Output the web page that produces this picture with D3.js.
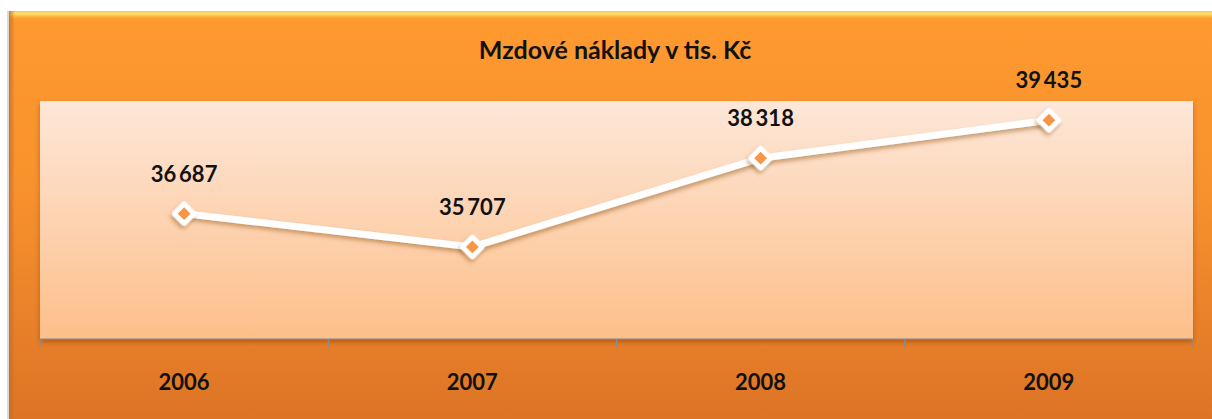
<!DOCTYPE html>
<html>
<head>
<meta charset="utf-8">
<script src="https://cdn.jsdelivr.net/npm/d3@7"></script>
<style>
  html, body { margin: 0; padding: 0; background: #fff; }
  svg { display: block; }
</style>
</head>
<body>
<div id="chart"></div>
<script>
// Mzdové náklady - spojnicový graf

const title = 'Mzdové náklady v tis. Kč';
const years = ['2006', '2007', '2008', '2009'];
const values = [36687, 35707, 38318, 39435];
const yDomain = [33000, 40000];

const width = 1212;
const height = 419;
const plot = { left: 40, top: 101, right: 1193, bottom: 339 };

const svg = d3.select('#chart').append('svg')
    .attr('width', width)
    .attr('height', height);

const defs = svg.append('defs');

// gradient rámu
const frameGrad = defs.append('linearGradient')
    .attr('id', 'frameGrad').attr('x1', 0).attr('y1', 0).attr('x2', 0).attr('y2', 1);
frameGrad.append('stop').attr('offset', '0%').attr('stop-color', '#fe9a30');
frameGrad.append('stop').attr('offset', '45%').attr('stop-color', '#f7912d');
frameGrad.append('stop').attr('offset', '100%').attr('stop-color', '#dc7426');

// gradient plochy grafu
const plotGrad = defs.append('linearGradient')
    .attr('id', 'plotGrad').attr('x1', 0).attr('y1', 0).attr('x2', 0).attr('y2', 1);
plotGrad.append('stop').attr('offset', '0%').attr('stop-color', '#fde7d8');
plotGrad.append('stop').attr('offset', '100%').attr('stop-color', '#fdbf8a');

// horní odlesk
const topGrad = defs.append('linearGradient')
    .attr('id', 'topGrad').attr('x1', 0).attr('y1', 0).attr('x2', 0).attr('y2', 1);
topGrad.append('stop').attr('offset', '0%').attr('stop-color', '#fbc27a');
topGrad.append('stop').attr('offset', '35%').attr('stop-color', '#fde462');
topGrad.append('stop').attr('offset', '100%').attr('stop-color', '#fe9a30').attr('stop-opacity', 0);

// levý okraj
const leftGrad = defs.append('linearGradient')
    .attr('id', 'leftGrad').attr('x1', 0).attr('y1', 0).attr('x2', 1).attr('y2', 0);
leftGrad.append('stop').attr('offset', '0%').attr('stop-color', '#c8691f').attr('stop-opacity', 0.8);
leftGrad.append('stop').attr('offset', '100%').attr('stop-color', '#c8691f').attr('stop-opacity', 0);

const shadow = defs.append('filter').attr('id', 'shadow')
    .attr('x', '-20%').attr('y', '-20%').attr('width', '140%').attr('height', '160%');
shadow.append('feDropShadow')
    .attr('dx', 1).attr('dy', 3).attr('stdDeviation', 2)
    .attr('flood-color', '#8a4a10').attr('flood-opacity', 0.45);

const plotShadow = defs.append('filter').attr('id', 'plotShadow')
    .attr('x', '-5%').attr('y', '-5%').attr('width', '110%').attr('height', '115%');
plotShadow.append('feDropShadow')
    .attr('dx', 0).attr('dy', 3).attr('stdDeviation', 2.5)
    .attr('flood-color', '#7a3c08').attr('flood-opacity', 0.5);

// rám
svg.append('rect')
    .attr('x', 9).attr('y', 11)
    .attr('width', width - 9).attr('height', height - 11)
    .attr('fill', 'url(#frameGrad)');
svg.append('rect')
    .attr('x', 9).attr('y', 11)
    .attr('width', width - 9).attr('height', 9)
    .attr('fill', 'url(#topGrad)');
svg.append('rect')
    .attr('x', 9).attr('y', 11)
    .attr('width', 6).attr('height', height - 11)
    .attr('fill', 'url(#leftGrad)');
svg.append('line')
    .attr('x1', 8).attr('x2', 8).attr('y1', 11).attr('y2', height)
    .attr('stroke', '#d9d9d9').attr('stroke-width', 2);

// plocha grafu
svg.append('rect')
    .attr('x', plot.left).attr('y', plot.top)
    .attr('width', plot.right - plot.left).attr('height', plot.bottom - plot.top)
    .attr('fill', 'url(#plotGrad)')
    .attr('filter', 'url(#plotShadow)');

// měřítka
const x = d3.scaleBand()
    .domain(years)
    .range([plot.left, plot.right]);

const y = d3.scaleLinear()
    .domain(yDomain)
    .range([plot.bottom, plot.top]);

// osa x
const xAxis = svg.append('g')
    .attr('transform', `translate(0,${plot.bottom})`);
xAxis.append('line')
    .attr('x1', plot.left).attr('x2', plot.right)
    .attr('stroke', '#8c8c8c').attr('stroke-width', 1.2);
const tickPos = years.map(d => x(d)).concat([plot.right]);
xAxis.selectAll('.tick-mark')
    .data(tickPos)
    .enter().append('line')
    .attr('class', 'tick-mark')
    .attr('x1', d => d).attr('x2', d => d)
    .attr('y1', 0).attr('y2', 9)
    .attr('stroke', '#8c8c8c').attr('stroke-width', 1.2);
xAxis.selectAll('.year')
    .data(years)
    .enter().append('text')
    .attr('class', 'year')
    .attr('x', d => x(d) + x.bandwidth() / 2)
    .attr('y', 51)
    .attr('text-anchor', 'middle')
    .style('font-family', 'Lato, "Open Sans", sans-serif')
    .style('font-weight', 700)
    .style('font-size', '22px')
    .style('fill', '#111')
    .text(d => d);

// čára
const points = years.map((d, i) => ({ year: d, value: values[i] }));
const line = d3.line()
    .x(d => x(d.year) + x.bandwidth() / 2)
    .y(d => y(d.value));

svg.append('path')
    .datum(points)
    .attr('d', line)
    .attr('fill', 'none')
    .attr('stroke', '#ffffff')
    .attr('stroke-width', 7)
    .attr('stroke-linejoin', 'round')
    .attr('filter', 'url(#shadow)');

// body
const markers = svg.selectAll('.marker')
    .data(points)
    .enter().append('g')
    .attr('class', 'marker')
    .attr('transform', d => `translate(${x(d.year) + x.bandwidth() / 2},${y(d.value)})`);

markers.append('rect')
    .attr('x', -9.5).attr('y', -9.5)
    .attr('width', 19).attr('height', 19)
    .attr('rx', 3)
    .attr('transform', 'rotate(45)')
    .attr('fill', '#ffffff')
    .attr('filter', 'url(#shadow)');

markers.append('rect')
    .attr('x', -4.5).attr('y', -4.5)
    .attr('width', 9).attr('height', 9)
    .attr('transform', 'rotate(45)')
    .attr('fill', '#f79646');

// popisky hodnot
const fmt = v => d3.format(',')(v).replace(/,/g, '\u2009');
svg.selectAll('.value-label')
    .data(points)
    .enter().append('text')
    .attr('class', 'value-label')
    .attr('x', d => x(d.year) + x.bandwidth() / 2)
    .attr('y', d => y(d.value) - 32)
    .attr('text-anchor', 'middle')
    .style('font-family', 'Lato, "Open Sans", sans-serif')
    .style('font-weight', 700)
    .style('font-size', '22px')
    .style('fill', '#111')
    .text(d => fmt(d.value));

// titulek
svg.append('text')
    .attr('x', 615)
    .attr('y', 59)
    .attr('text-anchor', 'middle')
    .style('font-family', 'Lato, "Open Sans", sans-serif')
    .style('font-weight', 700)
    .style('font-size', '25px')
    .style('fill', '#111')
    .text(title);
</script>
</body>
</html>
